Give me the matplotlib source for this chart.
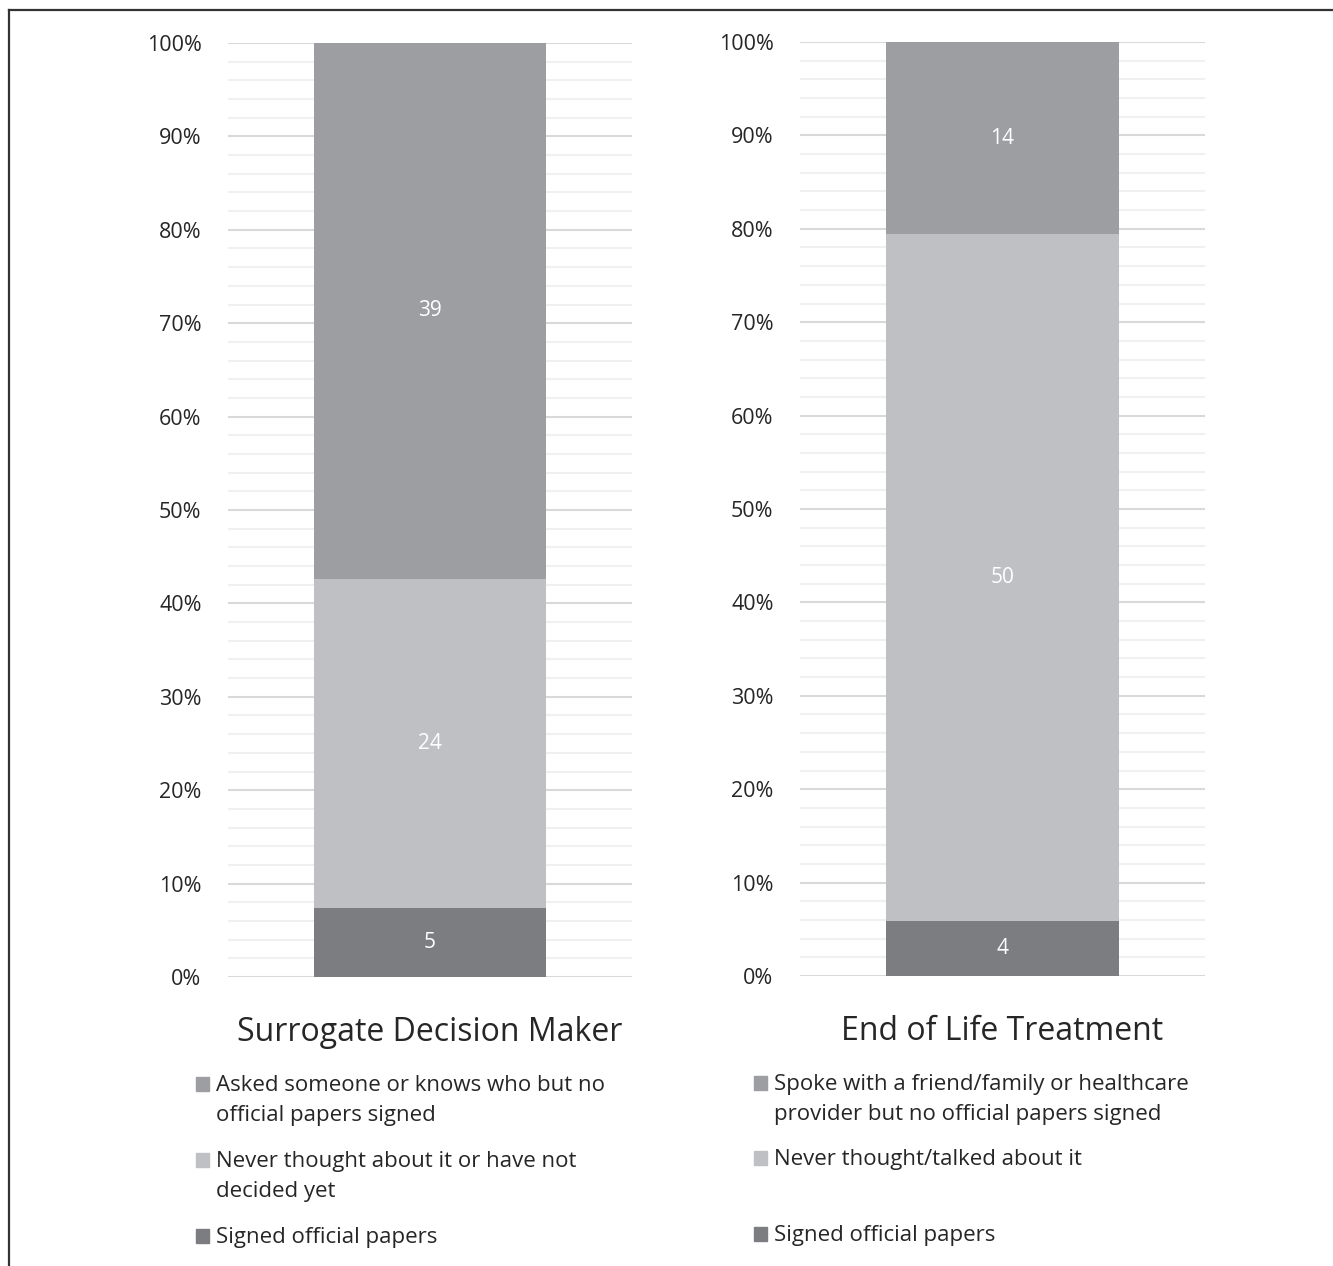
import matplotlib.pyplot as plt
from matplotlib.patches import Rectangle
from matplotlib.lines import Line2D
from matplotlib.ticker import MultipleLocator, PercentFormatter

plt.rcParams['font.family'] = ['Open Sans', 'DejaVu Sans']

# counts per response, bottom segment first
surrogate_labels = ['Signed official papers',
                    'Never thought about it or have not\ndecided yet',
                    'Asked someone or knows who but no\nofficial papers signed']
surrogate_counts = [5, 24, 39]

eol_labels = ['Signed official papers',
              'Never thought/talked about it',
              'Spoke with a friend/family or healthcare\nprovider but no official papers signed']
eol_counts = [4, 50, 14]

categories = ['Surrogate Decision Maker', 'End of Life Treatment']
colors = ['#7c7d81', '#bfc0c4', '#9d9ea2']

W, H = 1333, 1266
fig = plt.figure(figsize=(W / 100, H / 100), dpi=100)


def box(x0, x1, ytop, ybot):
    return [x0 / W, 1 - ybot / H, (x1 - x0) / W, (ybot - ytop) / H]


def stacked(ax, counts, name):
    total = sum(counts)
    bottom = 0.0
    for c, col in zip(counts, colors):
        share = c / total
        ax.bar(0, share, width=0.574, bottom=bottom, color=col, zorder=3)
        ax.text(0, bottom + share / 2, str(c), ha='center', va='center',
                color='white', fontsize=15, zorder=4)
        bottom += share
    ax.set_xlim(-0.5, 0.5)
    ax.set_ylim(0, 1)
    ax.yaxis.set_major_locator(MultipleLocator(0.1))
    ax.yaxis.set_minor_locator(MultipleLocator(0.02))
    ax.yaxis.set_major_formatter(PercentFormatter(1.0, decimals=0))
    ax.grid(axis='y', which='major', color='#d9d9d9', lw=1.5, zorder=0)
    ax.grid(axis='y', which='minor', color='#f0f0f0', lw=1.5, zorder=0)
    ax.tick_params(axis='y', which='both', length=0, labelsize=15.5,
                   labelcolor='#262626', pad=19)
    ax.set_xticks([0])
    ax.set_xticklabels([name], fontsize=23, color='#262626')
    ax.tick_params(axis='x', length=0, pad=28)
    for s in ax.spines.values():
        s.set_visible(False)


def legend(x, ys, labels):
    # entries listed top to bottom: top segment first
    for y, lab, col in zip(ys, labels[::-1], colors[::-1]):
        fig.add_artist(Rectangle((x / W, 1 - (y + 7) / H), 13 / W, 14 / H,
                                 transform=fig.transFigure, color=col))
        fig.text((x + 20) / W, 1 - (y - 9) / H, lab, fontsize=16,
                 color='#262626', va='top', ha='left', linespacing=1.55)


ax1 = fig.add_axes(box(228, 632, 43, 977))
stacked(ax1, surrogate_counts, categories[0])
ax2 = fig.add_axes(box(800, 1205, 42, 976))
stacked(ax2, eol_counts, categories[1])

legend(196, [1084, 1160, 1236], surrogate_labels)
legend(754, [1083, 1158, 1234], eol_labels)

# outer frame (top and left edges)
fig.add_artist(Line2D([9 / W, 1], [1 - 10 / H, 1 - 10 / H],
                      transform=fig.transFigure, color='#333333', lw=1.6))
fig.add_artist(Line2D([9 / W, 9 / W], [0, 1 - 10 / H],
                      transform=fig.transFigure, color='#333333', lw=1.6))

fig.savefig('out.png', dpi=100)
